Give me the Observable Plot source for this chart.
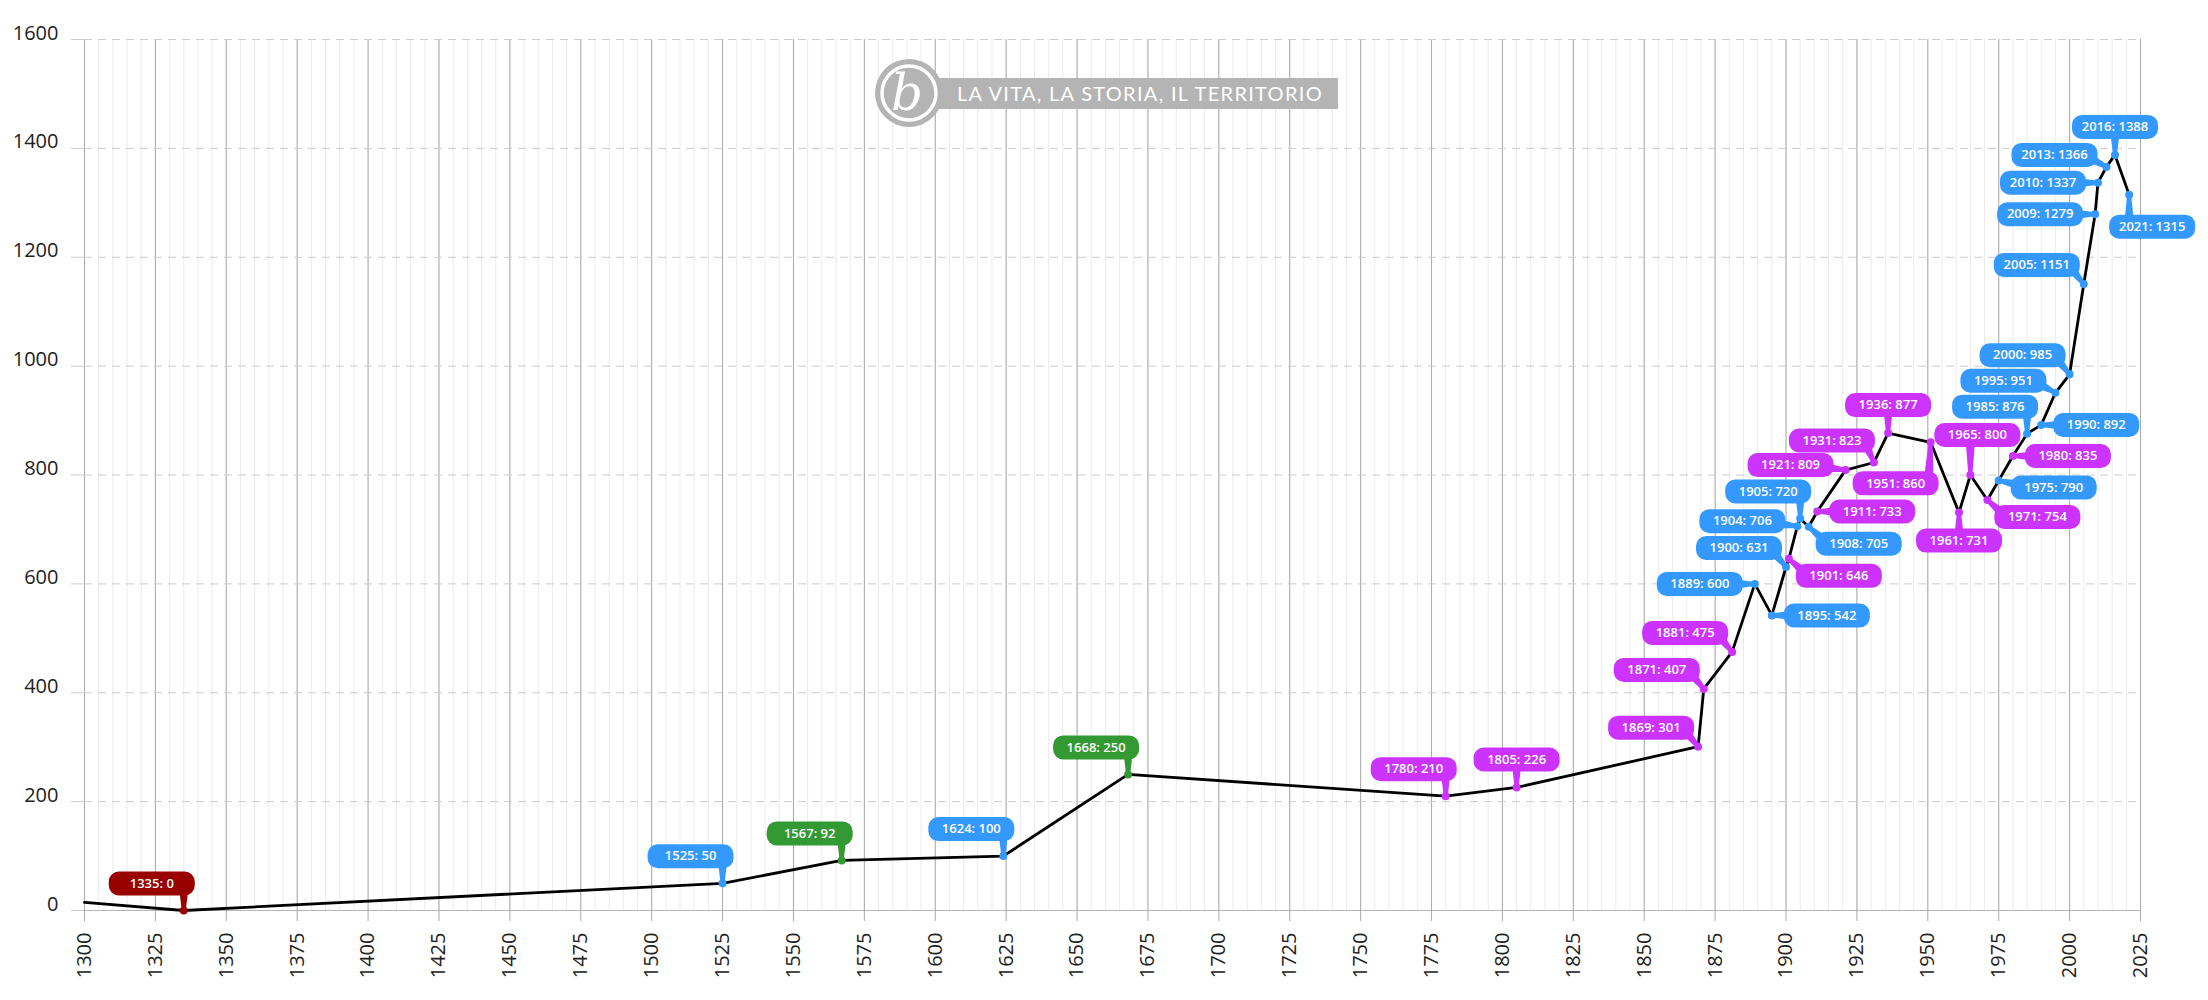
<!DOCTYPE html>
<html><head><meta charset="utf-8">
<script src="https://cdn.jsdelivr.net/npm/d3@7"></script>
<script src="https://cdn.jsdelivr.net/npm/@observablehq/plot@0.6"></script>
<style>
html,body{margin:0;padding:0;background:#fff;}
#wrap{position:relative;width:2208px;height:1000px;}
#logo{position:absolute;left:0;top:0;pointer-events:none;}
</style></head><body>
<div id="wrap"></div>
<script>
// ---- data ----
const years = [1300, 1335, 1525, 1567, 1624, 1668, 1780, 1805, 1869, 1871, 1881, 1889, 1895, 1900, 1901, 1904, 1905, 1908, 1911, 1921, 1931, 1936, 1951, 1961, 1965, 1971, 1975, 1980, 1985, 1990, 1995, 2000, 2005, 2009, 2010, 2013, 2016, 2021];
const values = [15, 0, 50, 92, 100, 250, 210, 226, 301, 407, 475, 600, 542, 631, 646, 706, 720, 705, 733, 809, 823, 877, 860, 731, 800, 754, 790, 835, 876, 892, 951, 985, 1151, 1279, 1337, 1366, 1388, 1315];
const series = [null, "A", "B", "C", "B", "C", "D", "D", "D", "D", "D", "B", "B", "B", "D", "B", "B", "B", "D", "D", "D", "D", "D", "D", "D", "D", "B", "D", "B", "B", "B", "B", "B", "B", "B", "B", "B", "B"];
const placement = [null, "nw", "nw", "nw", "nw", "nw", "nw", "n", "nww", "nww", "nww", "w", "e", "nww", "se", "w5", "nw", "se", "e", "w5", "nwx", "n", "sw", "s", "nn", "se", "es", "e", "nw", "e", "wn", "nww", "nww", "w", "w", "wn", "n", "sse"];
const xTicks = d3.range(1300, 2026, 25);
const xMinor = d3.range(1300, 2026, 5);
const yTicks = d3.range(0, 1601, 200);

// ---- styles ----
const seriesDomain = ["A", "B", "C", "D"];
const seriesRange = ["#990000", "#3399FF", "#339933", "#CC33FF"];
const offsets = {
  n: [0, -28], nn: [7, -40], nw: [-32, -27], nwx: [-42, -22], nww: [-47, -19],
  w: [-55, 0], w5: [-55, -5], wn: [-52, -12], e: [55, 0], es: [55, 7],
  se: [50, 17], s: [0, 28], sw: [-35, 41], sse: [23, 32]
};

const data = years.map((year, i) => ({year, value: values[i], series: series[i], placement: placement[i], label: `${year}: ${values[i]}`}));
const labeled = data.filter(d => d.series);

function callout([ox, oy]) {
  const W = 86, H = 24, R = 10;
  return {
    draw(ctx) {
      const l = ox - W / 2, r = ox + W / 2, t = oy - H / 2, b = oy + H / 2;
      ctx.moveTo(l + R, t);
      ctx.lineTo(r - R, t);
      ctx.arcTo(r, t, r, t + R, R);
      ctx.lineTo(r, b - R);
      ctx.arcTo(r, b, r - R, b, R);
      ctx.lineTo(l + R, b);
      ctx.arcTo(l, b, l, b - R, R);
      ctx.lineTo(l, t + R);
      ctx.arcTo(l, t, l + R, t, R);
      ctx.closePath();
      const ax = Math.max(l + R, Math.min(r - R, 0));
      const ay = Math.max(t + R, Math.min(b - R, 0));
      const len = Math.hypot(ax, ay);
      if (len > 0) {
        const ux = -ax / len, uy = -ay / len;
        const nx = -uy, ny = ux;
        let pts = [[ax + nx * 5, ay + ny * 5], [nx * 2, ny * 2], [-nx * 2, -ny * 2], [ax - nx * 5, ay - ny * 5]];
        let area = 0;
        for (let i = 0; i < pts.length; i++) {
          const [x1, y1] = pts[i], [x2, y2] = pts[(i + 1) % pts.length];
          area += x1 * y2 - x2 * y1;
        }
        if (area < 0) pts.reverse();
        ctx.moveTo(pts[0][0], pts[0][1]);
        for (let i = 1; i < pts.length; i++) ctx.lineTo(pts[i][0], pts[i][1]);
        ctx.closePath();
      }
      ctx.moveTo(4, 0);
      ctx.arc(0, 0, 4, 0, 2 * Math.PI);
      ctx.closePath();
    }
  };
}

const groups = d3.groups(labeled, d => d.placement);
const boxMarks = groups.map(([p, rows]) => Plot.dot(rows, {x: "year", y: "value", fill: "series", stroke: "none", symbol: callout(offsets[p])}));
const textMarks = groups.map(([p, rows]) => Plot.text(rows, {x: "year", y: "value", text: "label", dx: offsets[p][0], dy: offsets[p][1], fill: "white", fontSize: 13, fontWeight: 600}));

const chart = Plot.plot({
  width: 2208, height: 1000,
  marginLeft: 84, marginRight: 68, marginTop: 39, marginBottom: 90,
  style: {fontFamily: "'Open Sans', sans-serif", background: "#fff"},
  x: {domain: [1300, 2025], label: null},
  y: {domain: [0, 1600], label: null},
  color: {type: "ordinal", domain: seriesDomain, range: seriesRange},
  marks: [
    Plot.gridX(xMinor, {stroke: "#ebebeb", strokeOpacity: 1}),
    Plot.gridX(xTicks, {stroke: "#a9a9a9", strokeOpacity: 1}),
    Plot.gridY(yTicks.filter(d => d > 0), {stroke: "#cccccc", strokeOpacity: 1, strokeDasharray: "8,6"}),
    Plot.ruleY([0], {stroke: "#b5b5b5"}),
    Plot.axisY(yTicks, {tickSize: 13, tickPadding: 13, stroke: "#cccccc", fill: "#222", fontSize: 20, lineAnchor: "bottom", tickFormat: d3.format("d"), label: null}),
    Plot.axisX(xTicks, {tickSize: 11, tickPadding: 11, tickRotate: -90, stroke: "#a9a9a9", fill: "#222", fontSize: 20, tickFormat: d3.format("d"), label: null}),
    Plot.line(data, {x: "year", y: "value", stroke: "#000", strokeWidth: 2.8}),
    ...boxMarks,
    ...textMarks
  ]
});
const wrap = document.getElementById("wrap");
wrap.appendChild(chart);

// logo overlay
const ns = "http://www.w3.org/2000/svg";
const logo = document.createElementNS(ns, "svg");
logo.setAttribute("id", "logo");
logo.setAttribute("width", 2208);
logo.setAttribute("height", 1000);
logo.innerHTML = `
 <rect x="920" y="78" width="418" height="31" fill="#b4b4b4"/>
 <circle cx="909" cy="93" r="34" fill="#b4b4b4"/>
 <circle cx="909" cy="93" r="27" fill="none" stroke="#fff" stroke-width="3.5"/>
 <text x="907" y="110" text-anchor="middle" font-family="'DejaVu Serif', serif" font-style="italic" font-size="50" fill="#fff">b</text>
 <text x="957" y="101" font-family="Lato, sans-serif" font-size="20" fill="#fff" letter-spacing="1.3">LA VITA, LA STORIA, IL TERRITORIO</text>`;
wrap.appendChild(logo);
</script>
</body></html>
